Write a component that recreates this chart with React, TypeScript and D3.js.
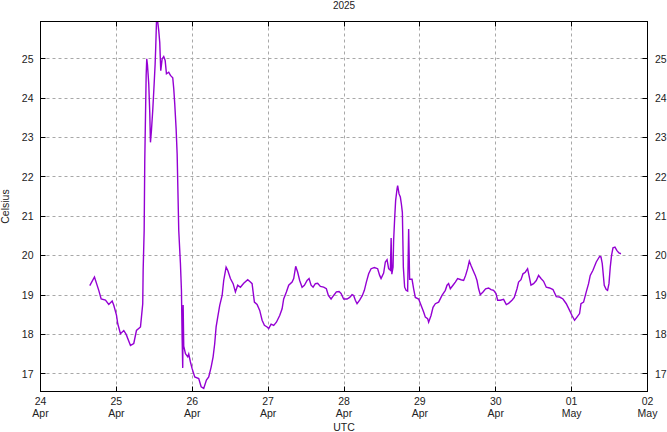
import React from "react";
import * as d3 from "d3";

// hours since 2025-04-24 00:00 UTC
const hours = [
  15.59, 17.07, 18.43, 19.19, 20.55, 21.59, 22.67, 23.18, 24.03, 24.44, 25.29, 26.34, 27.1, 28.46, 29.5, 30.35,
  31.62, 31.93, 32.34, 32.47, 32.79, 32.98, 33.42, 33.61, 33.83, 34.24, 34.56, 34.78, 35.09, 35.5, 35.95, 36.26,
  36.45, 36.68, 37.09, 37.4, 37.72, 38.04, 38.48, 38.98, 39.43, 39.84, 40.56, 41.1, 41.83, 42.15, 42.46, 42.9,
  43.22, 43.73, 44.26, 44.58, 44.8, 44.99, 45.12, 45.31, 45.85, 46.57, 46.89, 47.43, 47.96, 48.79, 50.05, 50.81,
  51.63, 52.48, 53.21, 53.97, 54.6, 55.11, 55.55, 56.06, 56.69, 57.45, 57.95, 58.71, 59.22, 60.07, 60.93, 61.65,
  62.38, 63.23, 64.28, 65.54, 66.4, 66.93, 67.25, 67.66, 68.51, 69.34, 70.1, 70.82, 71.68, 72.18, 72.94, 73.76,
  74.62, 75.66, 76.42, 76.92, 77.78, 78.51, 79.58, 80.09, 80.72, 81.35, 81.98, 82.74, 83.47, 84.32, 84.95, 85.59,
  86.22, 86.95, 87.67, 88.53, 89.57, 90.42, 91.06, 91.91, 92.73, 93.59, 94.44, 95.07, 95.89, 96.97, 97.79, 98.55,
  99.06, 99.59, 100.13, 100.95, 101.81, 102.44, 103.07, 103.8, 104.56, 105.6, 106.64, 107.28, 107.72, 108.54, 109.08, 109.62,
  110.12, 110.66, 110.91, 111.13, 111.51, 111.7, 112.02, 112.33, 112.78, 112.97, 113.41, 113.82, 114.14, 114.46, 114.77, 115.18,
  115.63, 116.13, 116.45, 116.76, 117.52, 118.03, 118.56, 119.61, 120.37, 121.19, 121.73, 122.45, 122.77, 123.53, 124.16, 124.89,
  125.93, 127.0, 128.05, 128.59, 129.09, 129.63, 130.48, 131.21, 131.94, 133.01, 133.84, 134.47, 135.1, 135.64, 136.18, 136.81,
  137.53, 138.07, 138.58, 139.11, 139.97, 140.79, 141.74, 142.5, 143.32, 144.08, 144.59, 145.44, 146.48, 147.34, 148.06, 149.14,
  149.86, 150.72, 151.22, 151.98, 152.61, 153.34, 154.07, 154.51, 155.14, 155.97, 156.82, 157.55, 158.31, 159.13, 159.98, 161.03,
  162.1, 163.15, 164.19, 165.26, 166.31, 167.35, 168.11, 168.93, 169.69, 170.51, 170.96, 171.78, 172.63, 173.36, 173.89, 174.75,
  175.79, 176.84, 177.28, 177.69, 178.32, 178.95, 179.37, 179.81, 180.22, 180.63, 181.08, 181.71, 182.34, 182.97, 183.6,
];

const celsius = [
  19.24, 19.46, 19.12, 18.9, 18.87, 18.76, 18.85, 18.74, 18.49, 18.27, 18.02, 18.1, 18.0, 17.72, 17.77, 18.1,
  18.19, 18.44, 18.78, 19.63, 20.64, 22.42, 24.58, 25.0, 24.85, 24.37, 23.64, 22.88, 23.18, 23.69, 24.37, 24.87,
  25.3, 25.93, 25.93, 25.72, 25.42, 24.7, 25.0, 25.06, 24.96, 24.62, 24.66, 24.58, 24.52, 24.24, 23.86, 23.22,
  22.59, 20.64, 19.8, 19.12, 17.9, 17.15, 18.75, 17.7, 17.51, 17.43, 17.5, 17.3, 17.13, 16.92, 16.88, 16.67,
  16.63, 16.84, 16.92, 17.17, 17.43, 17.77, 18.19, 18.44, 18.74, 18.99, 19.37, 19.71, 19.63, 19.42, 19.29, 19.08,
  19.25, 19.2, 19.3, 19.39, 19.33, 19.29, 19.08, 18.82, 18.76, 18.61, 18.36, 18.23, 18.19, 18.15, 18.26, 18.23,
  18.31, 18.48, 18.65, 18.9, 19.08, 19.25, 19.33, 19.42, 19.73, 19.58, 19.37, 19.2, 19.25, 19.37, 19.42, 19.25,
  19.2, 19.29, 19.3, 19.22, 19.2, 19.16, 18.99, 18.9, 18.99, 19.08, 19.09, 19.04, 18.9, 18.9, 18.94, 19.01,
  18.99, 18.87, 18.78, 18.87, 18.99, 19.12, 19.33, 19.54, 19.67, 19.7, 19.67, 19.5, 19.42, 19.56, 19.84, 19.9,
  19.67, 19.63, 20.45, 19.53, 19.71, 20.39, 20.94, 21.4, 21.7, 21.78, 21.57, 21.49, 21.32, 21.1, 19.71, 19.2,
  19.12, 19.1, 20.68, 19.4, 19.4, 19.16, 18.94, 18.9, 18.74, 18.57, 18.44, 18.4, 18.31, 18.48, 18.69, 18.78,
  18.82, 18.99, 19.12, 19.25, 19.29, 19.16, 19.25, 19.33, 19.42, 19.39, 19.37, 19.5, 19.67, 19.86, 19.75, 19.63,
  19.5, 19.37, 19.16, 19.01, 19.08, 19.16, 19.18, 19.14, 19.12, 19.04, 18.87, 18.87, 18.89, 18.76, 18.79, 18.87,
  18.94, 19.16, 19.33, 19.39, 19.54, 19.58, 19.67, 19.5, 19.25, 19.29, 19.37, 19.5, 19.42, 19.35, 19.2, 19.18,
  19.14, 18.96, 18.95, 18.9, 18.78, 18.61, 18.48, 18.36, 18.44, 18.53, 18.78, 18.82, 19.08, 19.29, 19.5, 19.63,
  19.84, 19.98, 19.97, 19.8, 19.25, 19.14, 19.12, 19.29, 19.71, 20.01, 20.2, 20.22, 20.13, 20.07, 20.05,
];

const xTickHours = [0, 24, 48, 72, 96, 120, 144, 168, 192];
const xTickDays = ["24", "25", "26", "27", "28", "29", "30", "01", "02"];
const xTickMonths = ["Apr", "Apr", "Apr", "Apr", "Apr", "Apr", "Apr", "May", "May"];
const yTicks = [17, 18, 19, 20, 21, 22, 23, 24, 25];
const yDomain = [16.55, 25.95];
const title = "2025";
const xLabel = "UTC";
const yLabel = "Celsius";

const W = 667;
const H = 432;
const L = 40.5;
const R = 647.5;
const T = 21.5;
const B = 391.5;
const FONT = "'Liberation Sans', Arial, sans-serif";

export default function App() {
  const x = d3.scaleLinear().domain([0, 192]).range([L, R]);
  const y = d3.scaleLinear().domain(yDomain).range([B, T]);
  const pts: [number, number][] = hours.map((h, i) => [h, celsius[i]]);
  const line = d3
    .line<[number, number]>()
    .x((d) => x(d[0]))
    .y((d) => y(d[1]));
  const tick = 5;
  const snap = (v: number) => Math.round(v - 0.5) + 0.5;

  return (
    <svg
      width={W}
      height={H}
      style={{ position: "absolute", left: 0, top: 0, background: "#fff" }}
      fontFamily={FONT}
    >
      <rect x={0} y={0} width={W} height={H} fill="#fff" />
      {yTicks.map((t) => (
        <line
          key={"gy" + t}
          x1={L}
          x2={R}
          y1={snap(y(t))}
          y2={snap(y(t))}
          stroke="#a8a8a8"
          strokeWidth={1}
          strokeDasharray="3,3"
        />
      ))}
      {xTickHours.slice(1, -1).map((h) => (
        <line
          key={"gx" + h}
          x1={snap(x(h))}
          x2={snap(x(h))}
          y1={T}
          y2={B}
          stroke="#a8a8a8"
          strokeWidth={1}
          strokeDasharray="3,3"
        />
      ))}
      <path d={line(pts) || ""} fill="none" stroke="#9400d3" strokeWidth={1.4} strokeLinejoin="miter" />
      {yTicks.map((t) => (
        <g key={"ty" + t}>
          <line x1={L} x2={L + tick} y1={snap(y(t))} y2={snap(y(t))} stroke="#000" />
          <line x1={R - tick} x2={R} y1={snap(y(t))} y2={snap(y(t))} stroke="#000" />
          <text x={33.5} y={y(t)} dy="0.36em" textAnchor="end" fontSize={10.5} fill="#222">
            {t}
          </text>
          <text x={655} y={y(t)} dy="0.36em" textAnchor="start" fontSize={10.5} fill="#222">
            {t}
          </text>
        </g>
      ))}
      {xTickHours.map((h, i) => (
        <g key={"tx" + h}>
          <line x1={snap(x(h))} x2={snap(x(h))} y1={B} y2={B - tick} stroke="#000" />
          <line x1={snap(x(h))} x2={snap(x(h))} y1={T} y2={T + tick} stroke="#000" />
          <text x={x(h)} y={405} textAnchor="middle" fontSize={10.5} fill="#222">
            {xTickDays[i]}
          </text>
          <text x={x(h)} y={416.5} textAnchor="middle" fontSize={10.5} fill="#222">
            {xTickMonths[i]}
          </text>
        </g>
      ))}
      <rect x={L} y={T} width={R - L} height={B - T} fill="none" stroke="#000" strokeWidth={1} />
      <text x={(L + R) / 2} y={8.5} textAnchor="middle" fontSize={10} fill="#222">
        {title}
      </text>
      <text x={(L + R) / 2} y={431} textAnchor="middle" fontSize={10.5} fill="#222">
        {xLabel}
      </text>
      <text
        transform={`translate(8.5,${(T + B) / 2}) rotate(-90)`}
        textAnchor="middle"
        fontSize={10.5}
        fill="#222"
      >
        {yLabel}
      </text>
    </svg>
  );
}
